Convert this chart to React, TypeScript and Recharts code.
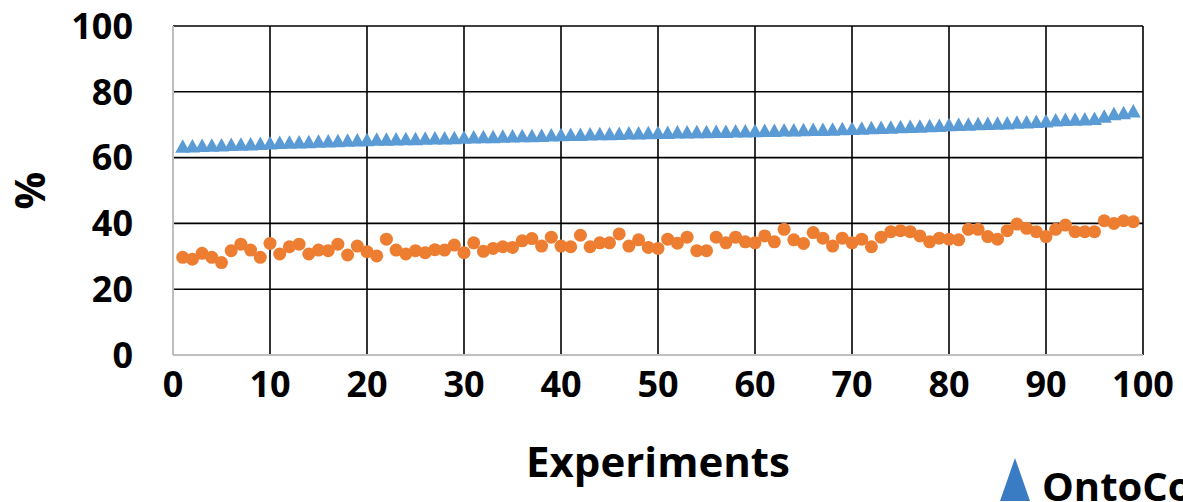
import React from "react";
import { ScatterChart, Scatter, XAxis, YAxis, CartesianGrid, Label } from "recharts";

const experiments: number[] = Array.from({ length: 99 }, (_, i) => i + 1);

const ontoValues: number[] = [
  63.3, 63.4, 63.5, 63.6, 63.7, 63.8, 63.9, 64.0, 64.1, 64.3,
  64.4, 64.5, 64.6, 64.7, 64.8, 64.9, 65.0, 65.1, 65.2, 65.3,
  65.4, 65.4, 65.5, 65.6, 65.6, 65.7, 65.8, 65.8, 65.9, 66.0,
  66.1, 66.2, 66.2, 66.3, 66.4, 66.5, 66.5, 66.6, 66.7, 66.8,
  66.9, 66.9, 67.0, 67.1, 67.1, 67.2, 67.3, 67.3, 67.4, 67.5,
  67.5, 67.6, 67.6, 67.7, 67.7, 67.8, 67.8, 67.9, 67.9, 68.0,
  68.1, 68.1, 68.2, 68.2, 68.3, 68.4, 68.4, 68.5, 68.6, 68.7,
  68.8, 68.9, 69.0, 69.1, 69.2, 69.3, 69.4, 69.5, 69.6, 69.8,
  69.9, 70.0, 70.1, 70.2, 70.3, 70.4, 70.6, 70.7, 70.8, 71.0,
  71.3, 71.4, 71.5, 71.6, 71.7, 72.4, 73.2, 73.5, 74.0,
];

const otherValues: number[] = [
  29.7, 29.1, 30.9, 29.7, 28.1, 31.7, 33.7, 31.9, 29.7, 33.9,
  30.7, 32.9, 33.7, 30.7, 31.9, 31.7, 33.7, 30.4, 33.1, 31.4,
  30.1, 35.2, 31.9, 30.7, 31.7, 31.1, 32.0, 31.9, 33.4, 31.1,
  34.1, 31.5, 32.4, 32.9, 32.7, 34.7, 35.4, 33.1, 35.8, 33.1,
  32.9, 36.4, 32.9, 34.1, 34.1, 36.8, 33.1, 35.0, 32.7, 32.4,
  35.2, 34.0, 35.8, 31.7, 31.7, 35.8, 34.1, 35.8, 34.4, 34.1,
  36.2, 34.4, 38.2, 35.0, 33.9, 37.2, 35.5, 33.1, 35.5, 34.1,
  35.2, 32.9, 35.8, 37.5, 37.8, 37.5, 36.2, 34.4, 35.5, 35.2,
  35.0, 38.2, 38.2, 36.0, 35.2, 37.8, 39.8, 38.5, 37.5, 36.0,
  38.2, 39.5, 37.5, 37.5, 37.5, 40.8, 40.0, 40.8, 40.5,
];

const xTicks: number[] = [0, 10, 20, 30, 40, 50, 60, 70, 80, 90, 100];
const yTicks: number[] = [0, 20, 40, 60, 80, 100];

const ontoData = experiments.map((x, i) => ({ x, y: ontoValues[i] }));
const otherData = experiments.map((x, i) => ({ x, y: otherValues[i] }));

const FONT = "'Open Sans', sans-serif";

const Triangle = (props: any) => {
  const { cx, cy } = props;
  if (cx == null || cy == null) return null;
  return (
    <polygon
      points={`${cx},${cy - 7.5} ${cx + 7.5},${cy + 6} ${cx - 7.5},${cy + 6}`}
      fill="#5b9bd5"
    />
  );
};

const Dot = (props: any) => {
  const { cx, cy } = props;
  if (cx == null || cy == null) return null;
  return <circle cx={cx} cy={cy} r={6.5} fill="#ed7d31" />;
};

export default function App() {
  return (
    <div style={{ position: "absolute", left: 0, top: 0, width: 1183, height: 502, overflow: "hidden", background: "#fff" }}>
      <ScatterChart width={1183} height={502} margin={{ top: 26, right: 40, bottom: 0, left: 0 }}>
        <CartesianGrid stroke="#000" strokeWidth={1.6} />
        <XAxis
          type="number"
          dataKey="x"
          domain={[0, 100]}
          ticks={xTicks}
          height={147}
          tickLine={false}
          tickSize={0}
          tickMargin={16}
          axisLine={{ stroke: "#bfbfbf", strokeWidth: 2 }}
          tick={{ fill: "#000", fontFamily: FONT, fontWeight: 700, fontSize: 36 }}
          interval={0}
        >
          <Label
            value="Experiments"
            position="insideTop"
            offset={92}
            style={{ fill: "#000", fontFamily: FONT, fontWeight: 700, fontSize: 42 }}
          />
        </XAxis>
        <YAxis
          type="number"
          dataKey="y"
          domain={[0, 100]}
          ticks={yTicks}
          width={173}
          tickLine={false}
          tickSize={0}
          tickMargin={40}
          axisLine={{ stroke: "#bfbfbf", strokeWidth: 2 }}
          tick={{ fill: "#000", fontFamily: FONT, fontWeight: 700, fontSize: 36 }}
          interval={0}
        >
          <Label
            value="%"
            angle={-90}
            position="insideLeft"
            offset={30}
            style={{ fill: "#000", fontFamily: FONT, fontWeight: 700, fontSize: 42, textAnchor: "middle" }}
          />
        </YAxis>
        <Scatter name="OntoCo" data={ontoData} shape={<Triangle />} isAnimationActive={false} />
        <Scatter name="Other" data={otherData} shape={<Dot />} isAnimationActive={false} />
      </ScatterChart>
      <div style={{ position: "absolute", left: 998, top: 456, display: "flex", alignItems: "flex-start", whiteSpace: "nowrap" }}>
        <svg width={34} height={46} style={{ display: "block" }}>
          <polygon points="17,2 32,45 2,45" fill="#3a7cc3" />
        </svg>
        <span
          style={{
            fontFamily: FONT,
            fontWeight: 700,
            fontSize: 40,
            color: "#000",
            marginLeft: 10,
            lineHeight: "40px",
            marginTop: 10,
          }}
        >
          OntoCo
        </span>
      </div>
    </div>
  );
}
